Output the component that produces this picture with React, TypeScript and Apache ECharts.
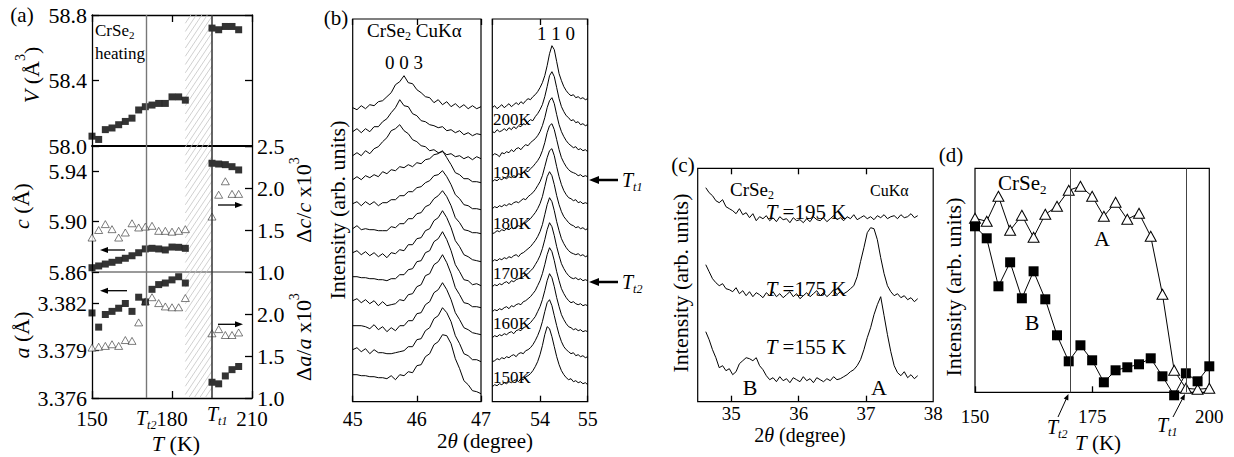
import React, { useEffect, useRef } from "react";
import * as echarts from "echarts";

const FONT = "Liberation Serif, Times New Roman, serif";

// ---------- panel (a) ----------
const A_T = [150, 152.5, 155, 157.5, 160, 162.5, 165, 167.5, 170, 172.5, 175, 177.5, 180, 182.5, 185, 195, 197.5, 200, 202.5, 205];
const A_V = [58.06, 58.04, 58.10, 58.11, 58.13, 58.15, 58.17, 58.22, 58.24, 58.25, 58.26, 58.26, 58.30, 58.30, 58.28, 58.72, 58.71, 58.73, 58.73, 58.71];
const A_C = [5.8634, 5.8648, 5.8663, 5.8677, 5.8693, 5.8709, 5.8729, 5.8753, 5.8783, 5.8788, 5.8783, 5.8775, 5.8798, 5.8796, 5.8788, 5.9463, 5.9457, 5.9452, 5.9436, 5.9410];
const A_DC = [1.41, 1.50, 1.57, 1.51, 1.41, 1.47, 1.58, 1.53, 1.54, 1.55, 1.49, 1.49, 1.48, 1.49, 1.51, 1.66, 1.92, 2.08, 1.93, 1.93];
const A_A = [3.3814, 3.3805, 3.3813, 3.3815, 3.3817, 3.3820, 3.3815, 3.3824, 3.3821, 3.3829, 3.3832, 3.3833, 3.3835, 3.3837, 3.3833, 3.3770, 3.3769, 3.3774, 3.3778, 3.3780];
const A_DA = [1.60, 1.61, 1.62, 1.64, 1.62, 1.69, 1.68, 1.90, 2.15, 2.20, 2.13, 2.09, 2.08, 2.08, 2.19, 1.77, 1.82, 1.75, 1.75, 1.78];
const T_T2 = 170.3;
const T_T1 = 195;
const HATCH = [185, 195];

// ---------- panel (b) ----------
const B_TEMPS = [205, 200, 195, 190, 185, 180, 175, 170, 165, 160, 155, 150];
const B_OFFSETS = [294, 270, 246, 222, 198, 173, 149, 125, 101, 76, 52, 27];
const B_LEFT_X = Array.from({ length: 31 }, (_, i) => 45 + i / 15);
const B_LEFT = [
  [0, -2, 2, -1, 3, 2, 6, 7, 11, 15, 23, 26, 32, 25, 24, 18, 15, 11, 10, 5, 8, 3, 6, 1, 4, 0, 3, -1, 2, -1, 1],
  [0, 3, -1, 3, 0, 5, 5, 10, 13, 19, 24, 32, 26, 25, 18, 16, 11, 10, 7, 6, 4, 5, 1, 2, -1, 1, -3, -1, -4, -2, -3],
  [0, 3, 0, 5, 2, 7, 9, 14, 18, 25, 27, 31, 25, 22, 16, 14, 10, 9, 5, 6, 3, 4, 1, 2, -1, 0, -3, -1, -4, -1, -3],
  [0, 3, 0, 4, 2, 5, 3, 8, 6, 10, 9, 13, 12, 15, 13, 17, 16, 20, 21, 25, 26, 29, 22, 15, 7, 5, 1, 1, -2, -2, -3],
  [0, 2, -2, 2, -1, 2, -2, 1, 1, 4, 4, 8, 8, 12, 12, 16, 17, 21, 23, 28, 29, 33, 27, 19, 9, 5, -1, -2, -5, -5, -6],
  [0, 3, -1, 0, -1, -1, -2, -2, -2, 2, 1, 5, 5, 10, 10, 15, 16, 22, 24, 30, 33, 38, 32, 23, 11, 6, -1, -2, -4, -4, -5],
  [0, 2, -2, 1, -3, 0, -4, -1, -5, 0, -1, 3, 2, 8, 8, 14, 15, 22, 24, 32, 35, 42, 35, 25, 12, 6, -2, -4, -7, -8, -9],
  [0, 0, -1, -1, -2, -2, -3, -3, -4, -2, -2, 2, 2, 7, 8, 15, 16, 24, 26, 35, 38, 45, 37, 26, 12, 5, -3, -4, -8, -7, -9],
  [0, 2, -2, 1, -3, 0, -5, -1, -5, -4, -3, 1, 0, 6, 7, 14, 16, 25, 27, 36, 39, 46, 38, 27, 13, 6, -2, -3, -6, -6, -7],
  [0, 0, 0, -1, -3, 1, -4, -1, -6, -2, -5, 0, 0, 5, 5, 12, 13, 21, 24, 33, 36, 43, 36, 26, 13, 6, -2, -4, -7, -8, -9],
  [0, 2, -2, 1, -4, 0, -3, -3, -4, -4, -3, -2, -1, 3, 3, 10, 11, 19, 22, 31, 34, 42, 37, 28, 14, 6, -4, -6, -10, -10, -12],
  [0, 0, -1, -1, -2, -2, -3, -3, -4, -1, -5, 0, -1, 3, 2, 9, 10, 18, 21, 30, 33, 40, 39, 31, 16, 6, -6, -10, -16, -17, -19],
];
const B_RIGHT_X = Array.from({ length: 41 }, (_, i) => 53 + i * 0.05);
const B_RIGHT = [
  [0, 2, -1, 1, 3, 0, 2, 4, 1, 3, 5, 3, 6, 4, 7, 9, 8, 11, 13, 16, 20, 25, 32, 42, 54, 62, 58, 46, 34, 27, 21, 17, 14, 12, 13, 10, 11, 9, 10, 8, 9],
  [0, -1, 2, 0, 1, 3, 1, 4, 2, 5, 3, 6, 5, 8, 7, 10, 12, 11, 15, 18, 22, 27, 35, 45, 56, 60, 55, 44, 33, 25, 20, 16, 14, 11, 12, 9, 10, 7, 8, 6, 7],
  [0, 2, 1, -1, 3, 2, 4, 3, 6, 4, 7, 8, 6, 9, 11, 10, 13, 15, 17, 20, 24, 30, 38, 48, 55, 58, 52, 41, 31, 24, 19, 15, 12, 10, 8, 9, 6, 7, 5, 6, 4],
  [-2, 0, -1, 1, 0, 2, 1, 3, 2, 4, 3, 6, 5, 7, 9, 8, 11, 13, 16, 19, 23, 29, 37, 47, 54, 56, 50, 40, 30, 22, 17, 13, 10, 8, 7, 6, 4, 5, 3, 4, 3],
  [-5, -3, -4, -2, -3, -1, -2, 0, -1, 1, 2, 1, 3, 5, 4, 7, 9, 11, 14, 18, 22, 28, 37, 46, 53, 55, 48, 37, 27, 19, 13, 9, 6, 5, 3, 4, 1, 2, 0, 1, 0],
  [-5, -4, -2, -3, -1, -2, 0, -1, 1, 0, 2, 3, 2, 5, 6, 8, 10, 13, 16, 20, 25, 32, 42, 52, 57, 53, 44, 33, 24, 17, 12, 9, 6, 4, 3, 1, 2, 0, 1, -1, 0],
  [-9, -7, -8, -6, -7, -5, -6, -4, -5, -3, -2, -4, -1, 0, 2, 4, 6, 9, 12, 16, 21, 28, 38, 48, 55, 51, 42, 31, 22, 14, 9, 5, 2, 0, -1, -2, -1, -3, -2, -4, -3],
  [-10, -8, -9, -7, -8, -6, -5, -7, -4, -5, -3, -2, -1, 0, 2, 3, 6, 8, 12, 16, 21, 28, 37, 47, 54, 50, 41, 30, 21, 13, 8, 4, 1, -1, -2, -1, -3, -2, -4, -3, -4],
  [-11, -9, -10, -8, -9, -7, -6, -8, -5, -6, -4, -3, -4, -1, 0, 2, 4, 7, 10, 15, 20, 27, 36, 46, 53, 49, 40, 29, 20, 12, 7, 3, 0, -2, -1, -3, -4, -3, -5, -4, -5],
  [-12, -10, -11, -9, -10, -8, -9, -7, -6, -8, -5, -4, -5, -2, -1, 1, 3, 6, 9, 14, 19, 26, 35, 45, 52, 48, 39, 28, 19, 11, 6, 2, -1, -2, -4, -3, -5, -4, -6, -5, -6],
  [-12, -11, -9, -10, -8, -9, -7, -8, -6, -5, -7, -4, -3, -4, -1, 0, 2, 5, 9, 14, 20, 28, 38, 47, 50, 44, 34, 24, 15, 8, 3, 0, -2, -4, -3, -6, -5, -7, -6, -8, -7],
  [-12, -10, -11, -9, -10, -8, -9, -7, -8, -6, -5, -7, -4, -5, -2, -1, 1, 4, 8, 13, 20, 29, 40, 48, 46, 38, 28, 18, 10, 4, 0, -3, -5, -4, -7, -6, -8, -7, -9, -8, -10],
];
const B_LABELS = ["200K", "190K", "180K", "170K", "160K", "150K"];
const B_LABEL_Y = [119, 172, 223, 273, 323, 377];

// ---------- panel (c) ----------
const C_X = Array.from({ length: 64 }, (_, i) => 34.62 + i * 0.05);
const C_195 = [
  214, 209, 206, 201, 199, 202, 195, 193, 191, 188,
  193, 187, 189, 184, 188, 181, 185, 183, 186, 181,
  184, 180, 185, 182, 183, 179, 184, 181, 182, 179,
  183, 180, 185, 182, 181, 184, 180, 183, 186, 182,
  184, 181, 185, 183, 187, 182, 184, 186, 183, 185,
  182, 186, 184, 187, 183, 185, 186, 183, 187, 184,
  185, 188, 184, 186,
];
const C_175 = [
  137, 130, 123, 119, 116, 118, 113, 112, 110, 114,
  108, 111, 106, 110, 105, 109, 107, 104, 109, 106,
  110, 105, 108, 104, 107, 110, 105, 108, 103, 106,
  109, 105, 108, 111, 106, 109, 105, 108, 112, 107,
  110, 108, 110, 113, 116, 125, 140, 154, 169, 174,
  173, 162, 144, 128, 116, 110, 106, 108, 104, 106,
  102, 104, 100, 103,
];
const C_155 = [
  70, 62, 52, 44, 34, 36, 31, 33, 27, 30,
  38, 41, 44, 43, 41, 44, 36, 32, 26, 22,
  24, 20, 25, 21, 23, 19, 24, 22, 20, 25,
  21, 23, 19, 24, 22, 20, 23, 21, 25, 22,
  23, 25, 27, 30, 32, 36, 42, 52, 64, 74,
  87, 97, 105, 86, 67, 50, 36, 29, 26, 30,
  24, 27, 23, 26,
];

// ---------- panel (d) ----------
const D_T = [150, 152.5, 155, 157.5, 160, 162.5, 165, 167.5, 170, 172.5, 175, 177.5, 180, 182.5, 185, 187.5, 190, 192.5, 195, 197.5, 200];
const D_A = [174, 171, 196, 162, 177, 155, 178, 186, 202, 206, 196, 176, 190, 173, 179, 156, 98, 22, 4, 3, 4];
const D_B = [166, 154, 106, 130, 94, 121, 93, 57, 31, 47, 32, 10, 22, 25, 28, 34, 16, -3, 19, 11, 26];

// ---------- layout ----------
const A_LEFT = 92, A_W = 160, A_TOP = 15, A_BOTTOM = 398;

const pairs = (xs: number[], ys: number[]) => xs.map((x, i) => [x, ys[i]]);

const BLACK_LINE = { show: true, onZero: false, lineStyle: { color: "#000", width: 1.3 } };
const tickIn = (len = 7, extra: any = {}) => ({ show: true, inside: true, length: len, lineStyle: { color: "#000", width: 1.3 }, ...extra });
const lbl = (size: number, margin: number, extra: any = {}) => ({ show: true, fontFamily: FONT, fontSize: size, color: "#000", margin, ...extra });
const OFF = { show: false };

function vLines(c2: string, w2: number, c1: string, w1: number) {
  return {
    silent: true,
    symbol: ["none", "none"],
    label: { show: false },
    animation: false,
    lineStyle: { type: "solid" },
    data: [
      { xAxis: T_T2, lineStyle: { color: c2, width: w2, type: "solid" } },
      { xAxis: T_T1, lineStyle: { color: c1, width: w1, type: "solid" } },
    ],
  };
}

function richFor(size: number, lh: number) {
  const small = Math.round(size * 0.62);
  return {
    n: { fill: "#000", fontFamily: FONT, fontSize: size, lineHeight: lh },
    i: { fill: "#000", fontFamily: FONT, fontSize: size, fontStyle: "italic", lineHeight: lh },
    sup: { fill: "#000", fontFamily: FONT, fontSize: small, lineHeight: small, verticalAlign: "top" },
    sub: { fill: "#000", fontFamily: FONT, fontSize: small, lineHeight: small, verticalAlign: "bottom" },
    isub: { fill: "#000", fontFamily: FONT, fontSize: small, fontStyle: "italic", lineHeight: small, verticalAlign: "bottom" },
  };
}

function tx(x: number, y: number, text: string, size: number, opt: { align?: string; rot?: number; lh?: number } = {}) {
  const lh = opt.lh ?? Math.round(size * 1.25);
  const align = opt.align ?? "center";
  return {
    type: "text",
    x,
    y,
    rotation: opt.rot ?? 0,
    z: 100,
    silent: true,
    style: {
      text,
      fill: "#000",
      fontFamily: FONT,
      fontSize: size,
      lineHeight: lh,
      align,
      textAlign: align,
      verticalAlign: "middle",
      textVerticalAlign: "middle",
      rich: richFor(size, lh),
    },
  };
}

function arrow(x1: number, y1: number, x2: number, y2: number, w: number, hl: number, hw: number) {
  const dx = x2 - x1, dy = y2 - y1;
  const L = Math.hypot(dx, dy);
  const ux = dx / L, uy = dy / L;
  const bx = x2 - ux * hl, by = y2 - uy * hl;
  return [
    { type: "line", z: 100, silent: true, shape: { x1, y1, x2: bx + ux, y2: by + uy }, style: { stroke: "#000", lineWidth: w } },
    {
      type: "polygon", z: 100, silent: true,
      shape: { points: [[x2, y2], [bx - uy * hw, by + ux * hw], [bx + uy * hw, by - ux * hw]] },
      style: { fill: "#000" },
    },
  ];
}

function buildOption(): any {
  const grids = [
    { left: A_LEFT, top: A_TOP, width: A_W, height: 131 },
    { left: A_LEFT, top: 146, width: A_W, height: 126 },
    { left: A_LEFT, top: 272, width: A_W, height: 126 },
    { left: 352.7, top: 19, width: 128.3, height: 382.7, show: true, borderColor: "#000", borderWidth: 1.2 },
    { left: 492.3, top: 19, width: 95.4, height: 382.7, show: true, borderColor: "#000", borderWidth: 1.2 },
    { left: 697.7, top: 168.3, width: 235.5, height: 233.4, show: true, borderColor: "#000", borderWidth: 1.2 },
    { left: 975, top: 168.3, width: 234.3, height: 224, show: true, borderColor: "#000", borderWidth: 1.2 },
  ].map((g) => ({ containLabel: false, outerBoundsMode: "none", backgroundColor: "transparent", ...g }));

  const aX = { type: "value", min: 150, max: 210, interval: 30, splitLine: OFF };
  const xAxis = [
    { ...aX, gridIndex: 0, position: "top", axisLine: BLACK_LINE, axisTick: tickIn(7), axisLabel: OFF },
    { ...aX, gridIndex: 0, position: "bottom", axisLine: { show: true, onZero: false, lineStyle: { color: "#000", width: 2 } }, axisTick: OFF, axisLabel: OFF },
    { ...aX, gridIndex: 1, position: "bottom", axisLine: { show: true, onZero: false, lineStyle: { color: "#7a7a7a", width: 1.5 } }, axisTick: OFF, axisLabel: OFF },
    { ...aX, gridIndex: 2, position: "bottom", axisLine: BLACK_LINE, axisTick: tickIn(7), axisLabel: lbl(21, 10) },
    { type: "value", gridIndex: 3, position: "bottom", min: 45, max: 47, interval: 1, splitLine: OFF, axisLine: { show: false, onZero: false }, axisTick: tickIn(6), axisLabel: lbl(20, 7) },
    { type: "value", gridIndex: 3, position: "top", min: 45, max: 47, interval: 1, splitLine: OFF, axisLine: { show: false, onZero: false }, axisTick: tickIn(6), axisLabel: OFF },
    { type: "value", gridIndex: 4, position: "bottom", min: 53, max: 55, interval: 1, splitLine: OFF, axisLine: { show: false, onZero: false }, axisTick: tickIn(6), axisLabel: lbl(20, 7, { showMinLabel: false }) },
    { type: "value", gridIndex: 4, position: "top", min: 53, max: 55, interval: 1, splitLine: OFF, axisLine: { show: false, onZero: false }, axisTick: tickIn(6), axisLabel: OFF },
    { type: "value", gridIndex: 5, position: "bottom", min: 34.5, max: 38, splitLine: OFF, axisLine: { show: false, onZero: false }, axisTick: tickIn(6, { customValues: [35, 36, 37] }), axisLabel: lbl(19, 2, { customValues: [35, 36, 37, 38] }) },
    { type: "value", gridIndex: 5, position: "top", min: 34.5, max: 38, splitLine: OFF, axisLine: { show: false, onZero: false }, axisTick: tickIn(6, { customValues: [35, 36, 37] }), axisLabel: OFF },
    { type: "value", gridIndex: 6, position: "bottom", min: 150, max: 200, interval: 25, splitLine: OFF, axisLine: { show: false, onZero: false }, axisTick: tickIn(6), axisLabel: lbl(19, 15) },
  ];

  const yAxis = [
    { type: "value", gridIndex: 0, position: "left", min: 58, max: 58.8, interval: 0.4, splitLine: OFF, axisLine: BLACK_LINE, axisTick: tickIn(7), axisLabel: lbl(22, 5, { formatter: (v: number) => v.toFixed(1) }) },
    { type: "value", gridIndex: 0, position: "right", min: 58, max: 58.8, interval: 0.4, splitLine: OFF, axisLine: BLACK_LINE, axisTick: tickIn(7), axisLabel: OFF },
    { type: "value", gridIndex: 1, position: "left", min: 5.86, max: 5.96, interval: 0.04, splitLine: OFF, axisLine: BLACK_LINE, axisTick: tickIn(7), axisLabel: lbl(22, 5, { showMaxLabel: false, formatter: (v: number) => v.toFixed(2) }) },
    { type: "value", gridIndex: 1, position: "right", min: 1, max: 2.5, interval: 0.5, splitLine: OFF, axisLine: BLACK_LINE, axisTick: tickIn(7), axisLabel: lbl(22, 5, { formatter: (v: number) => v.toFixed(1) }) },
    { type: "value", gridIndex: 2, position: "left", min: 3.376, max: 3.384, interval: 0.003, splitLine: OFF, axisLine: BLACK_LINE, axisTick: tickIn(7), axisLabel: lbl(22, 5, { showMaxLabel: false, formatter: (v: number) => v.toFixed(3) }) },
    { type: "value", gridIndex: 2, position: "right", min: 1, max: 2.5, interval: 0.5, splitLine: OFF, axisLine: BLACK_LINE, axisTick: tickIn(7), axisLabel: lbl(22, 5, { showMaxLabel: false, formatter: (v: number) => v.toFixed(1) }) },
    { type: "value", gridIndex: 3, min: 0, max: 382.7, show: false },
    { type: "value", gridIndex: 4, min: 0, max: 382.7, show: false },
    { type: "value", gridIndex: 5, min: 0, max: 233.4, show: false },
    { type: "value", gridIndex: 6, min: 0, max: 224, show: false },
  ];

  const sq = { symbol: "rect", symbolSize: 7, itemStyle: { color: "#000" }, silent: true };
  const tri = { symbol: "triangle", symbolSize: [8, 7], itemStyle: { color: "#fff", borderColor: "#333", borderWidth: 0.8 }, silent: true };

  const series: any[] = [
    { type: "scatter", xAxisIndex: 0, yAxisIndex: 0, data: pairs(A_T, A_V), ...sq, markLine: vLines("#777", 1.4, "#333", 1.5) },
    { type: "scatter", xAxisIndex: 2, yAxisIndex: 3, data: pairs(A_T, A_DC), ...tri },
    { type: "scatter", xAxisIndex: 2, yAxisIndex: 2, data: pairs(A_T, A_C), ...sq, markLine: vLines("#777", 1.4, "#333", 1.5) },
    { type: "scatter", xAxisIndex: 3, yAxisIndex: 5, data: pairs(A_T, A_DA), ...tri },
    { type: "scatter", xAxisIndex: 3, yAxisIndex: 4, data: pairs(A_T, A_A), ...sq, markLine: vLines("#777", 1.4, "#333", 1.5) },
  ];

  const lineStyle = { color: "#000", width: 1 };
  B_TEMPS.forEach((t, k) => {
    series.push({
      type: "line", name: `${t}K-003`, xAxisIndex: 4, yAxisIndex: 6, symbol: "none", silent: true, lineStyle,
      data: B_LEFT_X.map((x, i) => [x, B_OFFSETS[k] + B_LEFT[k][i]]),
    });
    series.push({
      type: "line", name: `${t}K-110`, xAxisIndex: 6, yAxisIndex: 7, symbol: "none", silent: true, lineStyle,
      data: B_RIGHT_X.map((x, i) => [x, B_OFFSETS[k] + B_RIGHT[k][i]]),
    });
  });

  [C_195, C_175, C_155].forEach((arr) => {
    series.push({ type: "line", xAxisIndex: 8, yAxisIndex: 8, symbol: "none", silent: true, lineStyle, data: pairs(C_X, arr) });
  });

  series.push({
    type: "line", xAxisIndex: 10, yAxisIndex: 9, data: pairs(D_T, D_A), clip: false, silent: true,
    symbol: "triangle", symbolSize: [11, 10], showAllSymbol: true,
    lineStyle: { color: "#000", width: 1 }, itemStyle: { color: "#fff", borderColor: "#000", borderWidth: 1 },
    markLine: vLines("#444", 1, "#444", 1),
  });
  series.push({
    type: "line", xAxisIndex: 10, yAxisIndex: 9, data: pairs(D_T, D_B), clip: false, silent: true,
    symbol: "rect", symbolSize: 10, showAllSymbol: true,
    lineStyle: { color: "#000", width: 1 }, itemStyle: { color: "#000" },
  });

  return { animation: false, backgroundColor: "#fff", textStyle: { fontFamily: FONT }, grid: grids, xAxis, yAxis, series };
}

function buildGraphics(xL: number, xR: number): any[] {
  const els: any[] = [];
  // hatch in panel (a)
  const k = 1.5;
  const yT = A_TOP, yB = A_BOTTOM;
  const cMin = yT + k * xL, cMax = yB + k * xR;
  for (let c = cMin; c <= cMax; c += 8.25) {
    const xa = Math.max(xL, (c - yB) / k);
    const xb = Math.min(xR, (c - yT) / k);
    if (xb <= xa) continue;
    els.push({ type: "line", z: 1, silent: true, shape: { x1: xa, y1: c - k * xa, x2: xb, y2: c - k * xb }, style: { stroke: "#c4c4c4", lineWidth: 0.8 } });
  }
  const R = Math.PI / 2;
  // (a)
  els.push(tx(22, 15, "(a)", 21));
  els.push(tx(95, 30, "{n|CrSe}{sub|2}", 17, { align: "left" }));
  els.push(tx(95, 53, "heating", 17, { align: "left" }));
  els.push(tx(31, 75, "{i|V}{n| (Å}{sup|3}{n|)}", 22, { rot: R, lh: 36 }));
  els.push(tx(21, 206, "{i|c}{n| (Å)}", 22, { rot: R }));
  els.push(tx(21, 335, "{i|a}{n| (Å)}", 22, { rot: R }));
  els.push(tx(303, 200, "{n|Δ}{i|c}{n|/}{i|c}{n| x10}{sup|3}", 22, { rot: R, lh: 32 }));
  els.push(tx(303, 337, "{n|Δ}{i|a}{n|/}{i|a}{n| x10}{sup|3}", 22, { rot: R, lh: 32 }));
  els.push(tx(136, 418, "{i|T}{isub|t2}", 20, { align: "left" }));
  els.push(tx(207, 414, "{i|T}{isub|t1}", 20, { align: "left" }));
  els.push(tx(176, 443, "{i|T}{n| (K)}", 22));
  els.push(...arrow(125, 250, 100, 250, 1.3, 8, 3));
  els.push(...arrow(127, 290.7, 100, 290.7, 1.3, 8, 3));
  els.push(...arrow(218, 205, 243, 205, 1.3, 8, 3));
  els.push(...arrow(218, 324.3, 243, 324.3, 1.3, 8, 3));
  // (b)
  els.push(tx(336, 18, "(b)", 21));
  els.push(tx(367, 30, "{n|CrSe}{sub|2}{n| CuKα}", 19, { align: "left" }));
  els.push(tx(404, 62, "0 0 3", 19));
  els.push(tx(556, 33, "1 1 0", 19));
  B_LABELS.forEach((s, i) => els.push(tx(493, B_LABEL_Y[i], s, 17, { align: "left" })));
  els.push(tx(337, 210, "Intensity (arb. units)", 22, { rot: R }));
  els.push(tx(485, 441, "{n|2}{i|θ}{n| (degree)}", 21));
  els.push(...arrow(618, 180, 589, 180, 2.5, 10, 4));
  els.push(...arrow(618, 282, 589, 282, 2.5, 10, 4));
  els.push(tx(622, 180, "{i|T}{isub|t1}", 20, { align: "left" }));
  els.push(tx(622, 282, "{i|T}{isub|t2}", 20, { align: "left" }));
  // (c)
  els.push(tx(683, 165, "(c)", 21));
  els.push(tx(730, 189, "{n|CrSe}{sub|2}", 19, { align: "left" }));
  els.push(tx(870, 190, "CuKα", 16, { align: "left" }));
  els.push(tx(806, 212, "{i|T}{n| =195 K}", 21));
  els.push(tx(806, 289, "{i|T}{n| =175 K}", 21));
  els.push(tx(806, 347, "{i|T}{n| =155 K}", 21));
  els.push(tx(750, 387, "B", 22));
  els.push(tx(879, 387, "A", 22));
  els.push(tx(680, 283, "Intensity (arb. units)", 22, { rot: R }));
  els.push(tx(800, 435, "{n|2}{i|θ}{n| (degree)}", 20));
  // (d)
  els.push(tx(951, 155, "(d)", 21));
  els.push(tx(998, 183, "{n|CrSe}{sub|2}", 21, { align: "left" }));
  els.push(tx(1102, 238, "A", 22));
  els.push(tx(1032, 322, "B", 22));
  els.push(tx(953, 287, "Intensity (arb. units)", 22, { rot: R }));
  els.push(tx(1047, 427, "{i|T}{isub|t2}", 20, { align: "left" }));
  els.push(tx(1157, 425, "{i|T}{isub|t1}", 20, { align: "left" }));
  els.push(tx(1098, 443, "{i|T}{n| (K)}", 21));
  els.push(...arrow(1058, 417, 1068.5, 394, 1, 6, 2.5));
  els.push(...arrow(1173, 417, 1185, 394, 1, 6, 2.5));
  return els;
}

export default function App() {
  const ref = useRef<HTMLDivElement>(null);
  useEffect(() => {
    const el = ref.current;
    if (!el) return;
    const chart = echarts.init(el, null, { renderer: "svg" });
    chart.setOption(buildOption());
    const xL = chart.convertToPixel({ xAxisIndex: 0 }, HATCH[0]) as unknown as number;
    const xR = chart.convertToPixel({ xAxisIndex: 0 }, HATCH[1]) as unknown as number;
    chart.setOption({ graphic: { elements: buildGraphics(xL, xR) } });
    return () => chart.dispose();
  }, []);
  return (
    <div
      ref={ref}
      style={{ position: "fixed", left: 0, top: 0, width: 1234, height: 457, background: "#fff" }}
    />
  );
}
